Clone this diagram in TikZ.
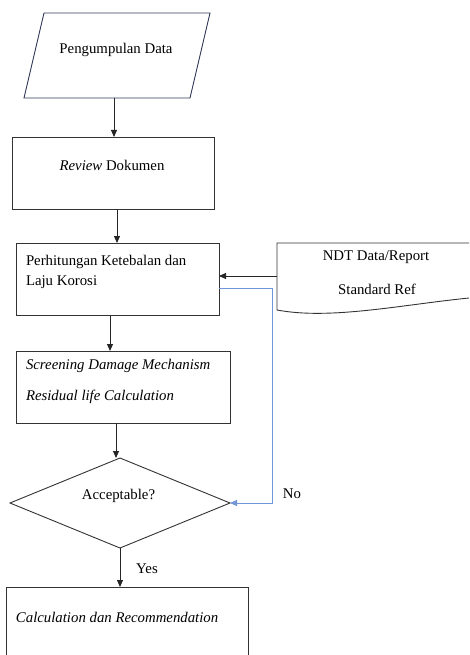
\documentclass[tikz,border=0pt]{standalone}
\usepackage{fontspec}
\setmainfont{Liberation Serif}
\usetikzlibrary{shapes.geometric,arrows.meta,calc}
\definecolor{lineblue}{RGB}{112,150,215}
\definecolor{paraedge}{RGB}{50,60,90}
\begin{document}
\begin{tikzpicture}[x=1pt,y=-1pt,
  boxnode/.style={draw=black!80,line width=0.9pt,inner sep=0pt,outer sep=0pt},
  ghost/.style={inner sep=0pt,outer sep=0pt},
  txt/.style={inner sep=0pt,outer sep=0pt,font=\fontsize{14.8pt}{20pt}\selectfont},
  arr/.style={-{Triangle[length=7pt,width=6pt]},line width=0.9pt,draw=black!85},
  barr/.style={-{Triangle[length=7pt,width=6pt]},line width=0.9pt,draw=lineblue}]
\useasboundingbox (0,0) rectangle (469,655);
\clip (0,0) rectangle (469,655);

% parallelogram: Pengumpulan Data
\draw[line width=0.9pt,draw=paraedge] (44,13) -- (210,13) -- (190,98) -- (24,98) -- cycle;
\node[ghost,minimum width=150pt,minimum height=85pt] (pd) at (114,55.5) {};
\node[txt] (pdt) at (116,50) {Pengumpulan Data};

% Review Dokumen
\node[boxnode,minimum width=202pt,minimum height=72pt] (rd) at (113,173) {};
\node[txt] (rdt) at (112,165) {\textit{Review} Dokumen};

% Perhitungan
\node[boxnode,minimum width=203pt,minimum height=72pt] (ph) at (117.5,279) {};
\node[txt,anchor=west] (pht1) at (26,262) {Perhitungan Ketebalan dan};
\node[txt,anchor=west] (pht2) at (26,282) {Laju Korosi};

% NDT document shape
\draw[line width=0.9pt,draw=black!80] (469,298) .. controls (400,305) and (330,320) .. (277,310) -- (277,243) -- (472,243);
\node[ghost,minimum width=192pt,minimum height=66pt] (ndt) at (373,276) {};
\node[txt] (ndt1) at (376,257) {NDT Data/Report};
\node[txt] (ndt2) at (377,289) {Standard Ref};

% Screening
\node[boxnode,minimum width=214pt,minimum height=72pt] (sc) at (123,387) {};
\node[txt,anchor=west] (sct1) at (26,366) {\textit{Screening Damage Mechanism}};
\node[txt,anchor=west] (sct2) at (26,397) {\textit{Residual life Calculation}};

% Diamond
\node[boxnode,diamond,minimum width=220pt,minimum height=90pt] (dm) at (120,503) {};
\node[txt] (acc) at (118.5,496) {Acceptable?};

% Calculation box (cut at bottom)
\node[boxnode,minimum width=242pt,minimum height=120pt] (calc) at (127,647) {};
\node[txt,anchor=west] (calct) at (16,617) {\textit{Calculation dan Recommendation}};

% labels
\node[txt] (no) at (292,494) {No};
\node[txt] (yes) at (147,569) {Yes};

% connectors
\draw[arr] (pd.south) -- (pd.south |- rd.north);
\draw[arr] ([xshift=4pt]rd.south) -- ([xshift=4pt]rd.south |- ph.north);
\draw[arr] ([xshift=-7.5pt]ph.south) -- ([xshift=-7.5pt]ph.south |- sc.north);
\draw[arr] ([xshift=-7pt]sc.south) -- ([xshift=-7pt]sc.south |- dm.north);
\draw[arr] (dm.south) -- (dm.south |- calc.north);
\draw[arr] (ndt.west) -- (ndt.west -| ph.east);
\coordinate (nc) at (272,503);
\draw[barr] ([yshift=-9pt]ph.east) -| (nc) -- (dm.east);
\end{tikzpicture}
\end{document}
